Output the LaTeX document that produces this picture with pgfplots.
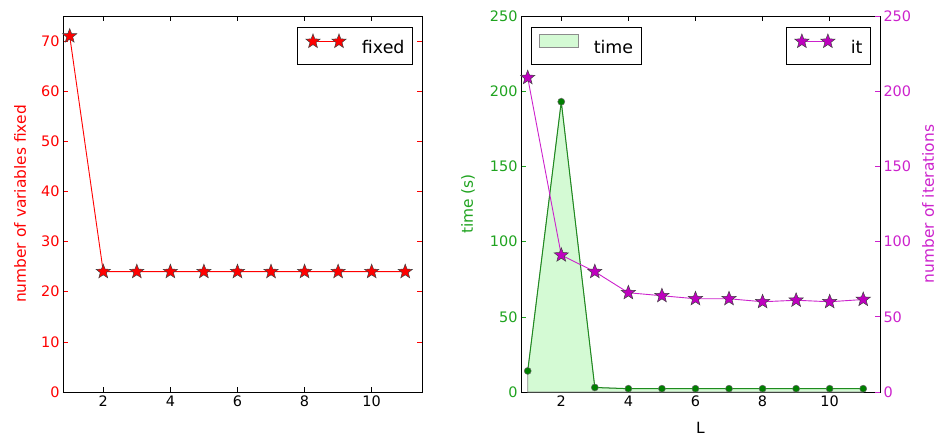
\documentclass[border=0pt]{standalone}
\usepackage{fontspec}
\setmainfont{DejaVu Sans}
\usepackage{pgfplots}
\pgfplotsset{compat=1.18}

\definecolor{mgreen}{HTML}{008000}
\definecolor{gline}{HTML}{1E8C1E}
\definecolor{glabel}{HTML}{1FA31F}
\definecolor{mmag}{HTML}{BF00BF}
\definecolor{mlabel}{HTML}{CC22CC}
\definecolor{pale}{HTML}{D4FAD4}

% filled five-pointed star
\pgfdeclareplotmark{fstar}{%
  \pgfpathmoveto{\pgfpointpolar{90}{\pgfplotmarksize}}%
  \pgfpathlineto{\pgfpointpolar{126}{0.42\pgfplotmarksize}}%
  \pgfpathlineto{\pgfpointpolar{162}{\pgfplotmarksize}}%
  \pgfpathlineto{\pgfpointpolar{198}{0.42\pgfplotmarksize}}%
  \pgfpathlineto{\pgfpointpolar{234}{\pgfplotmarksize}}%
  \pgfpathlineto{\pgfpointpolar{270}{0.42\pgfplotmarksize}}%
  \pgfpathlineto{\pgfpointpolar{306}{\pgfplotmarksize}}%
  \pgfpathlineto{\pgfpointpolar{342}{0.42\pgfplotmarksize}}%
  \pgfpathlineto{\pgfpointpolar{18}{\pgfplotmarksize}}%
  \pgfpathlineto{\pgfpointpolar{54}{0.42\pgfplotmarksize}}%
  \pgfpathclose
  \pgfusepathqfillstroke}

\pgfplotsset{
  panel/.style={
    scale only axis, width=359bp, height=376bp,
    xmin=0.8, xmax=11.5, xtick={2,4,6,8,10},
    tick align=inside, major tick length=5bp,
    tick label style={font=\fontsize{14.5}{17}\selectfont},
    label style={font=\fontsize{15.5}{18}\selectfont},
    /pgf/number format/assume math mode=true,
    axis line style={line width=0.9bp},
    every tick/.style={line width=0.6bp},
    legend style={draw=black, line width=0.9bp, fill=white,
      font=\fontsize{17.5}{20}\selectfont, inner xsep=8bp, inner ysep=0bp,
      nodes={inner xsep=0bp, inner ysep=0bp, text height=21bp, text depth=11bp}},
  },
  twomarks/.style={legend image code/.code={%
    \path[draw=none, fill=none] (-6bp,-11bp) rectangle (49bp,21bp);
    \draw[mark repeat=1] plot coordinates {(0bp,7bp) (26bp,7bp)};}},
}

\begin{document}
\begin{tikzpicture}
\useasboundingbox (-63bp,-44bp) rectangle (877bp,392bp);

% left panel
\begin{axis}[panel, at={(0bp,0bp)},
  ymin=0, ymax=75, ytick={0,10,...,70},
  yticklabel style={text=red}, y tick style={red},
  ylabel={number of variables fixed},
  ylabel style={text=red, at={(rel axis cs:0,0.5)}, anchor=center, yshift=43bp},
  legend style={at={(rel axis cs:1,1)}, anchor=north east, xshift=-9bp, yshift=-11bp},
]
\addplot[red, line width=0.9bp, mark=fstar, mark size=7.5bp,
  mark options={fill=red, draw=black!75, line width=0.5bp}, twomarks]
  coordinates {(1,71) (2,24) (3,24) (4,24) (5,24) (6,24) (7,24) (8,24) (9,24) (10,24) (11,24)};
\addlegendentry{fixed}
\end{axis}

% right panel: time
\begin{axis}[panel, at={(458bp,0bp)},
  ymin=0, ymax=250, ytick={0,50,...,250}, ytick pos=left,
  yticklabel style={text=glabel}, y tick style={glabel},
  ylabel={time (s)},
  ylabel style={text=glabel, at={(rel axis cs:0,0.5)}, anchor=center, yshift=53bp},
  xlabel={L},
  xlabel style={at={(rel axis cs:0.5,0)}, anchor=center, yshift=-36bp},
  legend style={at={(rel axis cs:0,1)}, anchor=north west, xshift=10bp, yshift=-11bp},
]
\addplot[fill=pale, draw=black!45, line width=0.6bp,
  legend image code/.code={\path[draw=none, fill=none] (0bp,-11bp) rectangle (54bp,21bp);
    \draw[fill=pale, draw=black!45, line width=0.6bp] (0bp,1bp) rectangle (39bp,14bp);}]
  coordinates {(1,14) (2,193) (3,3) (4,2.2) (5,2.2) (6,2.2) (7,2.2) (8,2.2) (9,2.2) (10,2.2) (11,2.2)} \closedcycle;
\addlegendentry{time}
\addplot[gline, line width=1bp, mark=*, mark size=3.5bp,
  mark options={fill=mgreen, draw=black!60, line width=0.5bp}, forget plot]
  coordinates {(1,14) (2,193) (3,3) (4,2.2) (5,2.2) (6,2.2) (7,2.2) (8,2.2) (9,2.2) (10,2.2) (11,2.2)};
\end{axis}

% right panel: iterations
\begin{axis}[panel, at={(458bp,0bp)},
  ymin=0, ymax=250, ytick={0,50,...,250},
  axis x line=none, axis y line*=right,
  yticklabel style={text=mlabel}, y tick style={mlabel},
  ylabel={number of iterations},
  ylabel style={text=mlabel, at={(rel axis cs:1,0.5)}, anchor=center, yshift=-48bp},
  legend style={at={(rel axis cs:1,1)}, anchor=north east, xshift=-9bp, yshift=-11bp},
]
\addplot[mlabel, line width=0.9bp, mark=fstar, mark size=7.5bp,
  mark options={fill=mmag, draw=black!75, line width=0.5bp}, twomarks]
  coordinates {(1,209) (2,91) (3,80) (4,66) (5,64) (6,62) (7,62) (8,60) (9,61) (10,60) (11,61.5)};
\addlegendentry{it}
\end{axis}
\end{tikzpicture}
\end{document}
